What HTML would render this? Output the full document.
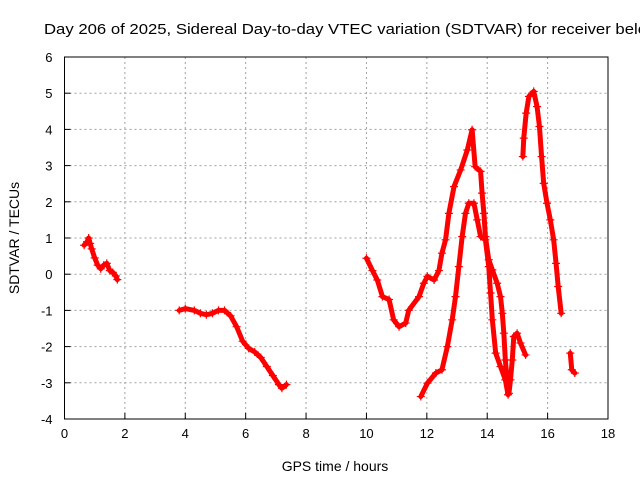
<!DOCTYPE html>
<html><head><meta charset="utf-8"><style>
body{margin:0;background:#fff;}
svg{display:block;font-family:"Liberation Sans",sans-serif;}
</style></head><body>
<svg id="chart" width="640" height="480" viewBox="0 0 640 480">
<rect width="640" height="480" fill="#fff"/>
<text x="44" y="34" font-size="15" textLength="603" lengthAdjust="spacingAndGlyphs" fill="#000">Day 206 of 2025, Sidereal Day-to-day VTEC variation (SDTVAR) for receiver bele</text>
<g id="grid"></g><g id="axes"></g><g id="marks"></g>
<text x="335" y="471" font-size="14" text-anchor="middle">GPS time / hours</text>
<text transform="translate(19,238) rotate(-90)" font-size="14" text-anchor="middle">SDTVAR / TECUs</text>
</svg>
<script>
const xTicks=[0,2,4,6,8,10,12,14,16,18];
const yTicks=[-4,-3,-2,-1,0,1,2,3,4,5,6];
const seg1T=[0.65,0.75,0.8,0.85,0.9,1.0,1.1,1.2,1.3,1.4,1.5,1.6,1.7,1.75];
const seg1V=[0.8,0.9,1.0,0.85,0.7,0.45,0.25,0.15,0.25,0.3,0.1,0.05,-0.05,-0.15];
const seg2T=[3.8,4.0,4.3,4.5,4.7,4.9,5.1,5.3,5.5,5.7,5.9,6.1,6.3,6.5,6.7,6.9,7.1,7.2,7.35];
const seg2V=[-1.0,-0.95,-1.0,-1.08,-1.12,-1.08,-1.0,-1.0,-1.15,-1.45,-1.85,-2.05,-2.15,-2.3,-2.55,-2.8,-3.05,-3.15,-3.05];
const seg3T=[10.0,10.2,10.36,10.53,10.75,10.9,11.08,11.3,11.4,11.74,11.9,12.02,12.24,12.4,12.5,12.62,12.73,12.9,13.12,13.34,13.5,13.6,13.78,13.83,13.89,13.94,14.05,14.17,14.33,14.44,14.5,14.55,14.6,14.66,14.72,14.77,14.83,14.88,14.99,15.1,15.27];
const seg3V=[0.44,0.1,-0.16,-0.62,-0.7,-1.26,-1.45,-1.35,-1.0,-0.62,-0.25,-0.06,-0.16,0.1,0.58,0.95,1.68,2.42,2.88,3.43,3.99,2.97,2.84,2.24,1.68,1.04,0.4,0.12,-0.25,-0.62,-1.08,-1.63,-2.37,-2.92,-3.29,-2.92,-2.37,-1.72,-1.63,-1.9,-2.23];
const seg4T=[11.8,12.02,12.3,12.5,12.68,12.84,12.95,13.06,13.17,13.28,13.39,13.56,13.67,13.78,13.94,14.05,14.11,14.17,14.28,14.44,14.6,14.69];
const seg4V=[-3.38,-3.01,-2.73,-2.64,-2.0,-1.26,-0.62,0.21,1.04,1.68,1.96,1.96,1.5,1.04,0.95,0.21,-0.52,-1.26,-2.18,-2.55,-2.92,-3.33];
const seg5T=[15.18,15.21,15.29,15.38,15.54,15.65,15.73,15.8,15.87,15.98,16.09,16.2,16.28,16.35,16.45];
const seg5V=[3.25,3.76,4.45,4.91,5.05,4.63,4.08,3.25,2.51,1.96,1.5,0.95,0.3,-0.34,-1.08];
const seg6T=[16.75,16.8,16.9];
const seg6V=[-2.18,-2.64,-2.73];

const L=64.5,R=608,T=57,B=419;
const xs=h=>L+(h-0)/18*(R-L);
const ys=v=>B-(v+4)/10*(B-T);
const NS='http://www.w3.org/2000/svg';
function mk(tag,attrs,parent){const e=document.createElementNS(NS,tag);for(const k in attrs)e.setAttribute(k,attrs[k]);parent.appendChild(e);return e;}
const grid=document.getElementById('grid'),axes=document.getElementById('axes'),marks=document.getElementById('marks');
xTicks.forEach(t=>{
  const x=xs(t);
  if(t>0&&t<18){const g=mk('line',{x1:x,x2:x,y1:T,y2:B,stroke:'#a0a0a0','stroke-dasharray':'2,3'},grid);
  
  }
  const tk=mk('line',{x1:x,x2:x,y1:B,y2:B-6,stroke:'#000'},axes);
  
  
  const lb=mk('text',{x:x,y:B+19,'font-size':13,'text-anchor':'middle'},axes);lb.textContent=t;
  
  
});
yTicks.forEach(t=>{
  const y=ys(t);
  if(t>-4&&t<6){const g=mk('line',{x1:L,x2:R,y1:y,y2:y,stroke:'#a0a0a0','stroke-dasharray':'2,3'},grid);
  
  }
  const tk=mk('line',{x1:L,x2:L+6,y1:y,y2:y,stroke:'#000'},axes);
  
  
  const lb=mk('text',{x:L-12,y:y+5,'font-size':13,'text-anchor':'end'},axes);lb.textContent=t;
  
  
});
const frame=mk('rect',{x:L,y:T,width:R-L,height:B-T,fill:'none',stroke:'#000'},axes);


[[seg1T,seg1V],[seg2T,seg2V],[seg3T,seg3V],[seg4T,seg4V],[seg5T,seg5V],[seg6T,seg6V]].forEach(([ts,vs])=>{
  const pts=ts.map((t,i)=>xs(t)+','+ys(vs[i])).join(' ');
  const pl=mk('polyline',{points:pts,fill:'none',stroke:'#ff0000','stroke-width':5,'stroke-linejoin':'round','stroke-linecap':'round'},marks);
  
  
  ts.forEach((t,i)=>{
    const x=xs(t),y=ys(vs[i]);
    const p=mk('path',{d:`M${x-4},${y}H${x+4}M${x},${y-4}V${y+4}`,stroke:'#ff0000','stroke-width':1.2},marks);
    
    
  });
});
</script>
</body></html>
